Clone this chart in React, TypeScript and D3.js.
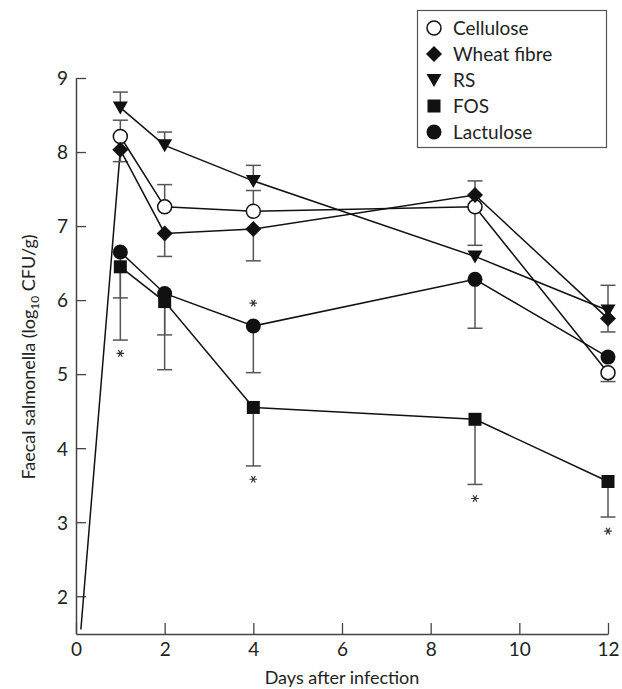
import React from 'react';
import * as d3 from 'd3';

// days sampled after infection
const days = [1, 2, 4, 9, 12];

// mean log10 CFU/g per diet
const cellulose = [8.21, 7.26, 7.2, 7.26, 5.02];
const wheatFibre = [8.03, 6.9, 6.96, 7.42, 5.75];
const resistantStarch = [8.6, 8.09, 7.61, 6.59, 5.86];
const fos = [6.45, 5.98, 4.55, 4.39, 3.55];
const lactulose = [6.65, 6.09, 5.65, 6.28, 5.23];

// end of the single visible error bar at each day (null = not shown)
const celluloseErr = [8.43, 7.56, 7.48, 6.74, 4.9];
const wheatFibreErr = [7.87, 6.59, 6.53, 7.61, 6.2];
const resistantStarchErr = [8.81, 8.27, 7.82, null, 5.57];
const fosErr = [5.46, 5.06, 3.76, 3.51, 3.07];
const lactuloseErr = [6.03, 5.53, 5.02, 5.62, null];

// stray lead-in stroke from the origin up to the first wheat fibre point
const leadInDay = 0.11;
const leadInValue = 1.55;

// significance markers
const starDays = [1, 4, 4, 9, 12];
const starValues = [5.28, 5.96, 3.58, 3.32, 2.88];

const xTicks = [0, 2, 4, 6, 8, 10, 12];
const yTicks = [2, 3, 4, 5, 6, 7, 8, 9];

const FONT = 'Lato, "DejaVu Sans", sans-serif';

type Shape = 'openCircle' | 'diamond' | 'triangle' | 'square' | 'circle';

const series: { name: string; values: number[]; errs: (number | null)[]; shape: Shape }[] = [
  { name: 'Cellulose', values: cellulose, errs: celluloseErr, shape: 'openCircle' },
  { name: 'Wheat fibre', values: wheatFibre, errs: wheatFibreErr, shape: 'diamond' },
  { name: 'RS', values: resistantStarch, errs: resistantStarchErr, shape: 'triangle' },
  { name: 'FOS', values: fos, errs: fosErr, shape: 'square' },
  { name: 'Lactulose', values: lactulose, errs: lactuloseErr, shape: 'circle' },
];

function Marker({ shape, x, y }: { shape: Shape; x: number; y: number }) {
  switch (shape) {
    case 'openCircle':
      return <circle cx={x} cy={y} r={7} fill="#fff" stroke="#111" strokeWidth={1.5} />;
    case 'circle':
      return <circle cx={x} cy={y} r={7.5} fill="#111" />;
    case 'square':
      return <rect x={x - 6.5} y={y - 6.5} width={13} height={13} fill="#111" />;
    case 'diamond':
      return <path d={`M${x},${y - 8}L${x + 8},${y}L${x},${y + 8}L${x - 8},${y}Z`} fill="#111" />;
    case 'triangle':
      return <path d={`M${x - 7.5},${y - 6}L${x + 7.5},${y - 6}L${x},${y + 7}Z`} fill="#111" />;
  }
}

export default function App() {
  const width = 622;
  const height = 689;
  const x = d3.scaleLinear().domain([0, 12]).range([76, 608]);
  const y = d3.scaleLinear().domain([1.49, 9]).range([634, 78]);

  const xAxisRef = React.useRef<SVGGElement>(null);
  const yAxisRef = React.useRef<SVGGElement>(null);

  React.useEffect(() => {
    const style = (g: d3.Selection<SVGGElement, unknown, null, undefined>) => {
      g.select('.domain').attr('stroke', '#444').attr('stroke-width', 1.5);
      g.selectAll('.tick line').attr('stroke', '#444').attr('stroke-width', 1.3);
      g.selectAll('.tick text')
        .attr('fill', '#222')
        .style('font-family', FONT)
        .style('font-size', '19px');
    };
    const xg = d3.select(xAxisRef.current!);
    xg.call(d3.axisBottom(x).tickValues(xTicks).tickSize(-11).tickSizeOuter(0).tickPadding(9));
    style(xg);
    const yg = d3.select(yAxisRef.current!);
    yg.call(d3.axisLeft(y).tickValues(yTicks).tickSize(-10).tickSizeOuter(0).tickPadding(8));
    style(yg);
    yg.selectAll('.tick text').attr('dy', '0.36em');
  }, []);

  const line = d3
    .line<number>()
    .x((_, i) => x(days[i]))
    .y((v) => y(v));

  const star = d3.symbol(d3.symbolAsterisk, 40)() ?? '';

  return (
    <svg width={width} height={height} style={{ position: 'absolute', left: 0, top: 0 }}>
      <rect width={width} height={height} fill="#fff" />
      <g ref={xAxisRef} transform={`translate(0,${y(1.49)})`} />
      <g ref={yAxisRef} transform={`translate(${x(0)},0)`} />

      {/* lead-in stroke */}
      <line
        x1={x(leadInDay)}
        y1={y(leadInValue)}
        x2={x(days[0])}
        y2={y(wheatFibre[0])}
        stroke="#111"
        strokeWidth={1.5}
      />

      {/* error bars */}
      {series.map((s) =>
        s.errs.map((e, i) =>
          e == null ? null : (
            <g key={`${s.name}-e${i}`} stroke="#555" strokeWidth={1.5}>
              <line x1={x(days[i])} x2={x(days[i])} y1={y(s.values[i])} y2={y(e)} />
              <line x1={x(days[i]) - 7.5} x2={x(days[i]) + 7.5} y1={y(e)} y2={y(e)} />
            </g>
          )
        )
      )}

      {/* series lines */}
      {series.map((s) => (
        <path key={s.name} d={line(s.values) ?? ''} fill="none" stroke="#111" strokeWidth={1.5} />
      ))}

      {/* markers */}
      {series.map((s) =>
        s.values.map((v, i) => <Marker key={`${s.name}-m${i}`} shape={s.shape} x={x(days[i])} y={y(v)} />)
      )}

      {/* significance stars */}
      {starDays.map((d, i) => (
        <path
          key={`star${i}`}
          d={star}
          transform={`translate(${x(d)},${y(starValues[i])}) rotate(90)`}
          fill="none"
          stroke="#333"
          strokeWidth={1.2}
        />
      ))}

      {/* legend */}
      <rect x={417.5} y={10.5} width={189} height={137} fill="#fff" stroke="#555" strokeWidth={1.2} />
      {series.map((s, i) => {
        const cy = 28 + i * 26;
        return (
          <g key={`leg-${s.name}`}>
            <Marker shape={s.shape} x={434} y={cy} />
            <text x={453} y={cy + 6.5} fontFamily={FONT} fontSize={19} fill="#222">
              {s.name}
            </text>
          </g>
        );
      })}

      {/* axis titles */}
      <text x={(x(0) + x(12)) / 2} y={684} textAnchor="middle" fontFamily={FONT} fontSize={18} fill="#222">
        Days after infection
      </text>
      <text
        transform={`translate(35,${357}) rotate(-90)`}
        textAnchor="middle"
        fontFamily={FONT}
        fontSize={18}
        fill="#222"
      >
        Faecal salmonella (log
        <tspan fontSize={12} dy={4}>
          10
        </tspan>
        <tspan dy={-4}> CFU/g)</tspan>
      </text>
    </svg>
  );
}
